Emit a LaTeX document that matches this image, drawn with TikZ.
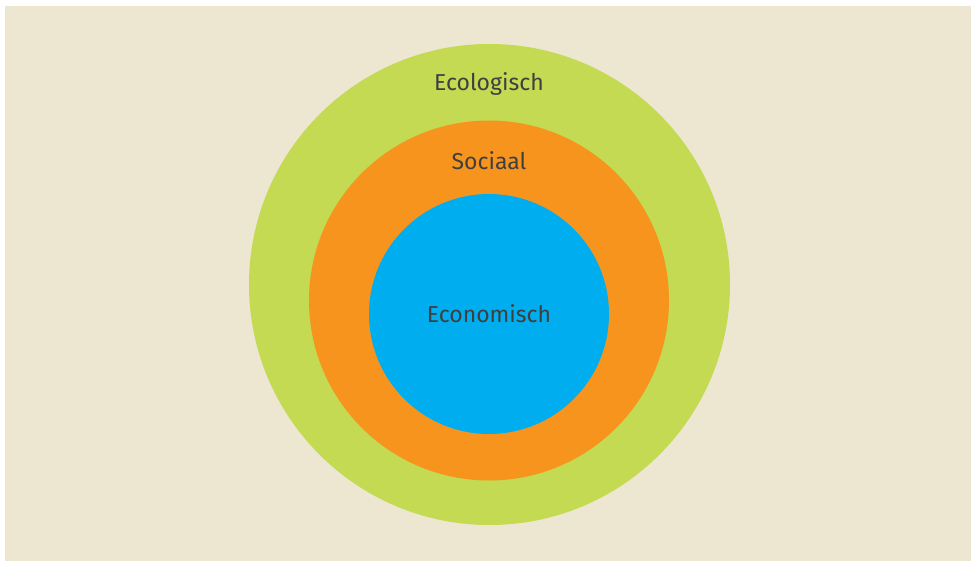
\documentclass[tikz,border=0pt]{standalone}
\usepackage{fontspec}
\setmainfont{Fira Sans}
\usepackage{tikz}
\usetikzlibrary{positioning}
\definecolor{achtergrond}{HTML}{EDE6D1}
\definecolor{groen}{HTML}{C3DA52}
\definecolor{oranje}{HTML}{F7941E}
\definecolor{blauw}{HTML}{00ADEE}
\definecolor{tekst}{HTML}{3F3F3F}
\def\ecologischcircle{(489.5,284.5) circle (240.5)}
\def\sociaalcircle{(489,300.5) circle (180)}
\def\economischcircle{(489,314) circle (120)}
\tikzset{
    label/.style = {text = tekst, font = \fontsize{23}{27}\selectfont, inner sep = 0pt}
}

\begin{document}
\begin{tikzpicture}[x = 1pt, y = -1pt]
    \useasboundingbox (0,0) rectangle (971,561);
    % Achtergrond
    \fill[achtergrond] (5,6) rectangle (971,561);
    % Ecologisch
    \fill[groen] \ecologischcircle;
    \node[label] (ecologisch) at (489,84){Ecologisch};
    % Sociaal
    \fill[oranje] \sociaalcircle;
    \node[label] (sociaal) at (489,161){Sociaal};
    % Economisch
    \fill[blauw] \economischcircle;
    \node[label] (economisch) at (489,314){Economisch};
\end{tikzpicture}
\end{document}
